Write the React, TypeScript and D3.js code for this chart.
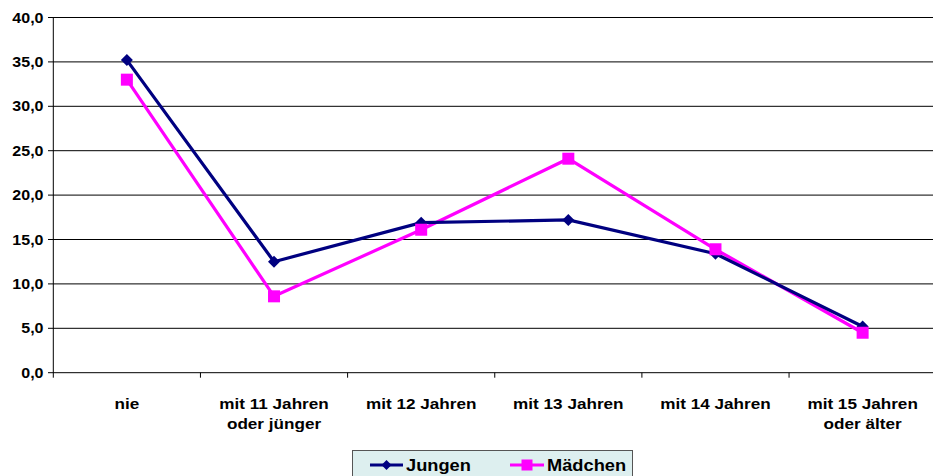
import React from "react";
import * as d3 from "d3";

const categories: string[][] = [
  ["nie"],
  ["mit 11 Jahren", "oder jünger"],
  ["mit 12 Jahren"],
  ["mit 13 Jahren"],
  ["mit 14 Jahren"],
  ["mit 15 Jahren", "oder älter"],
];
const jungen = [35.2, 12.5, 16.9, 17.2, 13.4, 5.2];
const maedchen = [33.0, 8.6, 16.1, 24.1, 13.9, 4.5];
const yTicks = [0, 5, 10, 15, 20, 25, 30, 35, 40];
const seriesNames = ["Jungen", "Mädchen"];

const W = 933;
const H = 476;
const NAVY = "#000080";
const MAGENTA = "#FF00FF";
const FONT = "'Liberation Sans', Arial, sans-serif";
const SX = 1.12;

export default function App() {
  const left = 53.3;
  const band = 147.15;
  const x = d3
    .scaleBand<number>()
    .domain(categories.map((_, i) => i))
    .range([left, left + band * categories.length])
    .paddingInner(0)
    .paddingOuter(0);
  const y = d3.scaleLinear().domain([0, 40]).range([372.7, 17.5]);
  const cx = (i: number) => (x(i) as number) + x.bandwidth() / 2;
  const line = d3
    .line<number>()
    .x((_, i) => cx(i))
    .y((d) => y(d));
  const right = left + band * categories.length;

  const diamond = (px: number, py: number, r: number) =>
    `M${px},${py - r}L${px + r},${py}L${px},${py + r}L${px - r},${py}Z`;

  return (
    <svg
      width={W}
      height={H}
      style={{ position: "absolute", left: 0, top: 0, background: "#fff" }}
      fontFamily={FONT}
    >
      {/* gridlines */}
      {yTicks.map((t) => (
        <g key={t}>
          <line x1={48} x2={right} y1={y(t)} y2={y(t)} stroke="#000" strokeWidth={1} />
          <text
            transform={`translate(${43.5},${y(t) + 5}) scale(${SX},1)`}
            textAnchor="end"
            fontSize={14.3}
            fontWeight="bold"
            fill="#000"
          >
            {t.toFixed(1).replace(".", ",")}
          </text>
        </g>
      ))}
      {/* y axis */}
      <line x1={left} x2={left} y1={y(40)} y2={y(0) + 5} stroke="#000" strokeWidth={1} />
      {/* x ticks */}
      {categories.map((_, i) => (
        <line
          key={i}
          x1={(x(i) as number) + band}
          x2={(x(i) as number) + band}
          y1={y(0)}
          y2={y(0) + 5}
          stroke="#000"
          strokeWidth={1}
        />
      ))}
      {/* category labels */}
      {categories.map((lines, i) => (
        <g key={i}>
          {lines.map((l, j) => (
            <text
              key={j}
              transform={`translate(${cx(i)},${409 + j * 19.5}) scale(${SX},1)`}
              textAnchor="middle"
              fontSize={15.3}
              fontWeight="bold"
              fill="#000"
            >
              {l}
            </text>
          ))}
        </g>
      ))}
      {/* lines */}
      <path d={line(maedchen) || ""} fill="none" stroke={MAGENTA} strokeWidth={3.2} strokeLinejoin="miter" />
      <path d={line(jungen) || ""} fill="none" stroke={NAVY} strokeWidth={3.2} strokeLinejoin="miter" />
      {jungen.map((v, i) => (
        <path key={i} d={diamond(cx(i), y(v), 6)} fill={NAVY} />
      ))}
      {maedchen.map((v, i) => (
        <rect key={i} x={cx(i) - 6} y={y(v) - 6} width={12} height={12} fill={MAGENTA} />
      ))}
      {/* legend */}
      <g>
        <rect x={352.5} y={450.5} width={280} height={30} fill="#DDEFEF" stroke="#555" strokeWidth={1} />
        <line x1={370} x2={403} y1={465} y2={465} stroke={NAVY} strokeWidth={3} />
        <path d={diamond(386.5, 465, 5)} fill={NAVY} />
        <text
          transform={`translate(406,471) scale(${SX},1)`}
          fontSize={16.3}
          fontWeight="bold"
          fill="#000"
        >
          {seriesNames[0]}
        </text>
        <line x1={510} x2={544} y1={465} y2={465} stroke={MAGENTA} strokeWidth={3} />
        <rect x={521.5} y={459.5} width={11} height={11} fill={MAGENTA} />
        <text
          transform={`translate(547,471) scale(${SX},1)`}
          fontSize={16.3}
          fontWeight="bold"
          fill="#000"
        >
          {seriesNames[1]}
        </text>
      </g>
    </svg>
  );
}
